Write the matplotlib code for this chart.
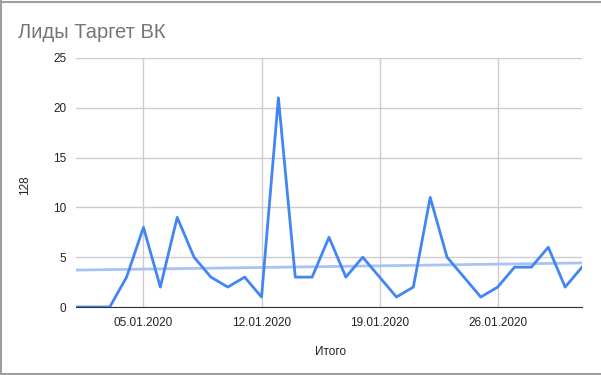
import numpy as np
import pandas as pd
import matplotlib.pyplot as plt
import matplotlib.dates as mdates
from matplotlib.lines import Line2D

plt.rcParams['font.family'] = ['Liberation Sans', 'DejaVu Sans']

# данные по дням января 2020
dates = pd.date_range('2020-01-01', '2020-01-31', freq='D')
leads = [0, 0, 0, 3, 8, 2, 9, 5, 3, 2, 3, 1, 21, 3, 3, 7,
         3, 5, 3, 1, 2, 11, 5, 3, 1, 2, 4, 4, 6, 2, 4]
tick_dates = pd.to_datetime(['2020-01-05', '2020-01-12', '2020-01-19', '2020-01-26'])
tick_labels = ['05.01.2020', '12.01.2020', '19.01.2020', '26.01.2020']

fig = plt.figure(figsize=(6.01, 3.75), dpi=100)
ax = fig.add_axes([76 / 601, 1 - 307 / 375, (582 - 76) / 601, (307 - 58) / 375])

x = mdates.date2num(dates)
# линия тренда
k, b = np.polyfit(x - x[0], leads, 1)
ax.plot(dates, k * (x - x[0]) + b, color='#a8c4f5', lw=2, zorder=2)
ax.plot(dates, leads, color='#4285f4', lw=2, zorder=3)

ax.set_xlim(dates[0], dates[-1])
ax.set_ylim(0, 25)
ax.set_yticks(range(0, 26, 5))
ax.set_xticks(tick_dates)
ax.set_xticklabels(tick_labels)
ax.grid(True, color='#cccccc', lw=1)
ax.set_axisbelow(True)
for s in ['top', 'right', 'left']:
    ax.spines[s].set_visible(False)
ax.spines['bottom'].set_color('#333333')
ax.spines['bottom'].set_zorder(4)
ax.tick_params(length=0, labelsize=8.5, colors='#222222', pad=7)

ax.set_xlabel('Итого', fontsize=8.5, color='#222222')
ax.set_ylabel('128', fontsize=8.5, color='#222222')
ax.xaxis.set_label_coords(0.504, -0.181)
ax.yaxis.set_label_coords(-0.10, 0.49)
ax.xaxis.label.set_va('center')
ax.yaxis.label.set_va('center')

fig.text(18 / 601, 1 - 33 / 375, 'Лиды Таргет ВК', fontsize=14.5, color='#757575',
         va='center', ha='left')

# рамка листа: сверху, слева, снизу
border = dict(transform=fig.transFigure, color='#9e9e9e', lw=1.5)
fig.lines.append(Line2D([0, 1], [1 - 2 / 375, 1 - 2 / 375], **border))
fig.lines.append(Line2D([1 / 601, 1 / 601], [0, 1], **border))
fig.lines.append(Line2D([0, 1], [1.5 / 375, 1.5 / 375], **border))

fig.savefig('out.png', dpi=100)
